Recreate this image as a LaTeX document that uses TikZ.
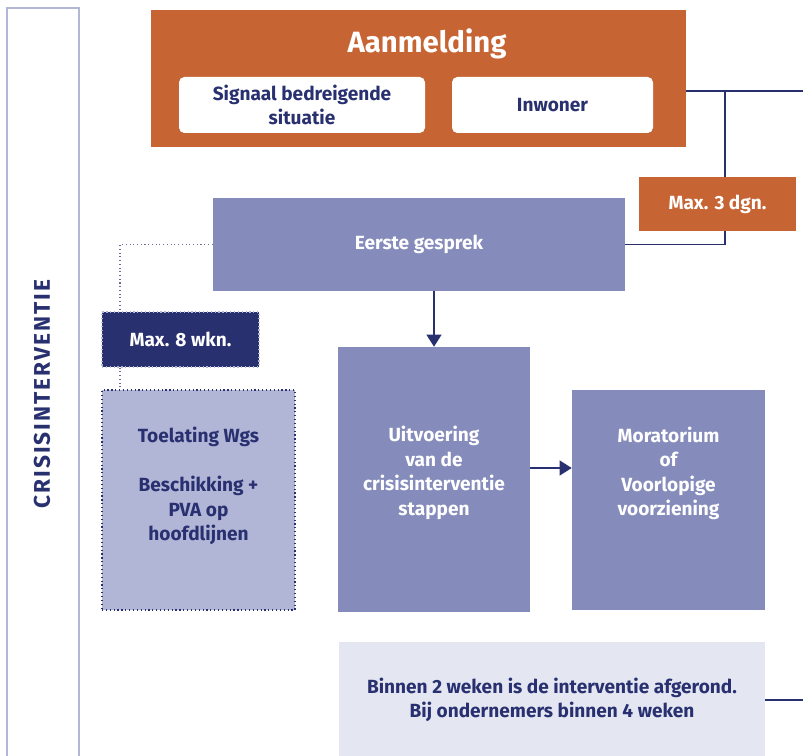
\documentclass[tikz,border=0pt]{standalone}
\usepackage{fontspec}
\setmainfont{Fira Sans}
\usetikzlibrary{arrows.meta,positioning,calc}
\definecolor{oranje}{HTML}{C76433}
\definecolor{navy}{HTML}{283070}
\definecolor{paars}{HTML}{858BBB}
\definecolor{lichtpaars}{HTML}{B1B5D6}
\definecolor{bleek}{HTML}{E4E6F2}
\definecolor{rand}{HTML}{B3B7D6}

\begin{document}
\begin{tikzpicture}[
  x=0.75pt, y=-0.75pt,
  txt/.style={align=center, inner sep=0pt, font=\bfseries\fontsize{14.3}{18.4}\selectfont},
  orangebox/.style={txt, fill=oranje, text=white},
  whitebox/.style={txt, fill=white, text=navy, rounded corners=4pt, minimum height=42pt},
  purplebox/.style={txt, fill=paars, text=white},
  palebox/.style={txt, fill=lichtpaars, text=navy, draw=navy, dotted, line width=0.9pt},
  navybox/.style={txt, fill=navy, text=white, draw=rand, dotted, line width=0.9pt},
  notebox/.style={txt, fill=bleek, text=navy},
  edge/.style={-{Triangle[width=11pt,length=9pt]}, line width=1.4pt, draw=navy},
  link/.style={line width=1.4pt, draw=navy},
  aux/.style={dotted, line width=0.8pt, draw=navy!70}
]
\useasboundingbox (0,0) rectangle (803,756);
\clip (0,0) rectangle (803,756);

% swimlane
\node[draw=rand, line width=1.5pt, minimum width=54pt, minimum height=585pt] (lane) at (43,398) {};
\node[rotate=90, text=navy, font=\bfseries\fontsize{17}{20}\selectfont\addfontfeature{LetterSpace=9}] (lanetitle) at (42,394) {CRISISINTERVENTIE};

% aanmelding
\node[orangebox, minimum width=401.25pt, minimum height=102.75pt] (aanmelding) at (418.5,78.5) {};
\node[txt, text=white, font=\bfseries\fontsize{22}{26}\selectfont] (aanmeldtitel) at (427,44) {Aanmelding};
\node[whitebox, minimum width=184.5pt] (signaal) at (302,105) {Signaal bedreigende\\situatie};
\node[whitebox, minimum width=150.75pt] (inwoner) at (552.5,105) {Inwoner};

\node[orangebox, minimum width=117.75pt, minimum height=40.5pt] (max3) at (717.5,204) {Max. 3 dgn.};
\node[purplebox, minimum width=309pt, minimum height=69.75pt] (eerste) at (419,244.5) {Eerste gesprek};

\node[navybox, minimum width=117.75pt, minimum height=41.25pt] (max8) at (180.5,339.5) {Max. 8 wkn.};
\node[palebox, minimum width=144.75pt, minimum height=165pt] (toelating) at (198.5,500) {};
\node[txt, text=navy] (toelatingtxt) at (198.5,486) {Toelating Wgs\\[18.4pt]Beschikking +\\PVA op\\hoofdlijnen};

\node[purplebox, minimum width=144pt, minimum height=198.75pt] (uitvoering) at (434,479.5) {};
\node[txt, text=white] (uitvoeringtxt) at (434,473) {Uitvoering\\van de\\crisisinterventie\\stappen};

\node[purplebox, minimum width=144.75pt, minimum height=165pt] (moratorium) at (668.5,500) {};
\node[txt, text=white] (moratoriumtxt) at (668.5,473.5) {Moratorium\\of\\Voorlopige\\voorziening};

\node[notebox, minimum width=319.5pt, minimum height=87pt] (afgerond) at (552,700) {Binnen 2 weken is de interventie afgerond.\\Bij ondernemers binnen 4 weken};

% verbindingen
\coordinate (rin) at (803,91);
\coordinate (knik) at (725,91);
\coordinate (stip) at (120,244);
\coordinate (pijl) at (551,468);
\draw[link] (aanmelding.east |- rin) -- (rin);
\draw[link] (knik) -- (knik |- max3.north);
\draw[link] (knik |- max3.south) |- (eerste.east);
\draw[aux] (eerste.west) -| (stip |- max8.north);
\draw[aux] (stip |- max8.south) -- (stip |- toelating.north);
\draw[edge] (uitvoering.north |- eerste.south) -- (uitvoering.north);
\draw[edge] (uitvoering.east |- pijl) -- (moratorium.west |- pijl);
\draw[link] (afgerond.east) -- (afgerond.east -| rin);
\end{tikzpicture}
\end{document}
